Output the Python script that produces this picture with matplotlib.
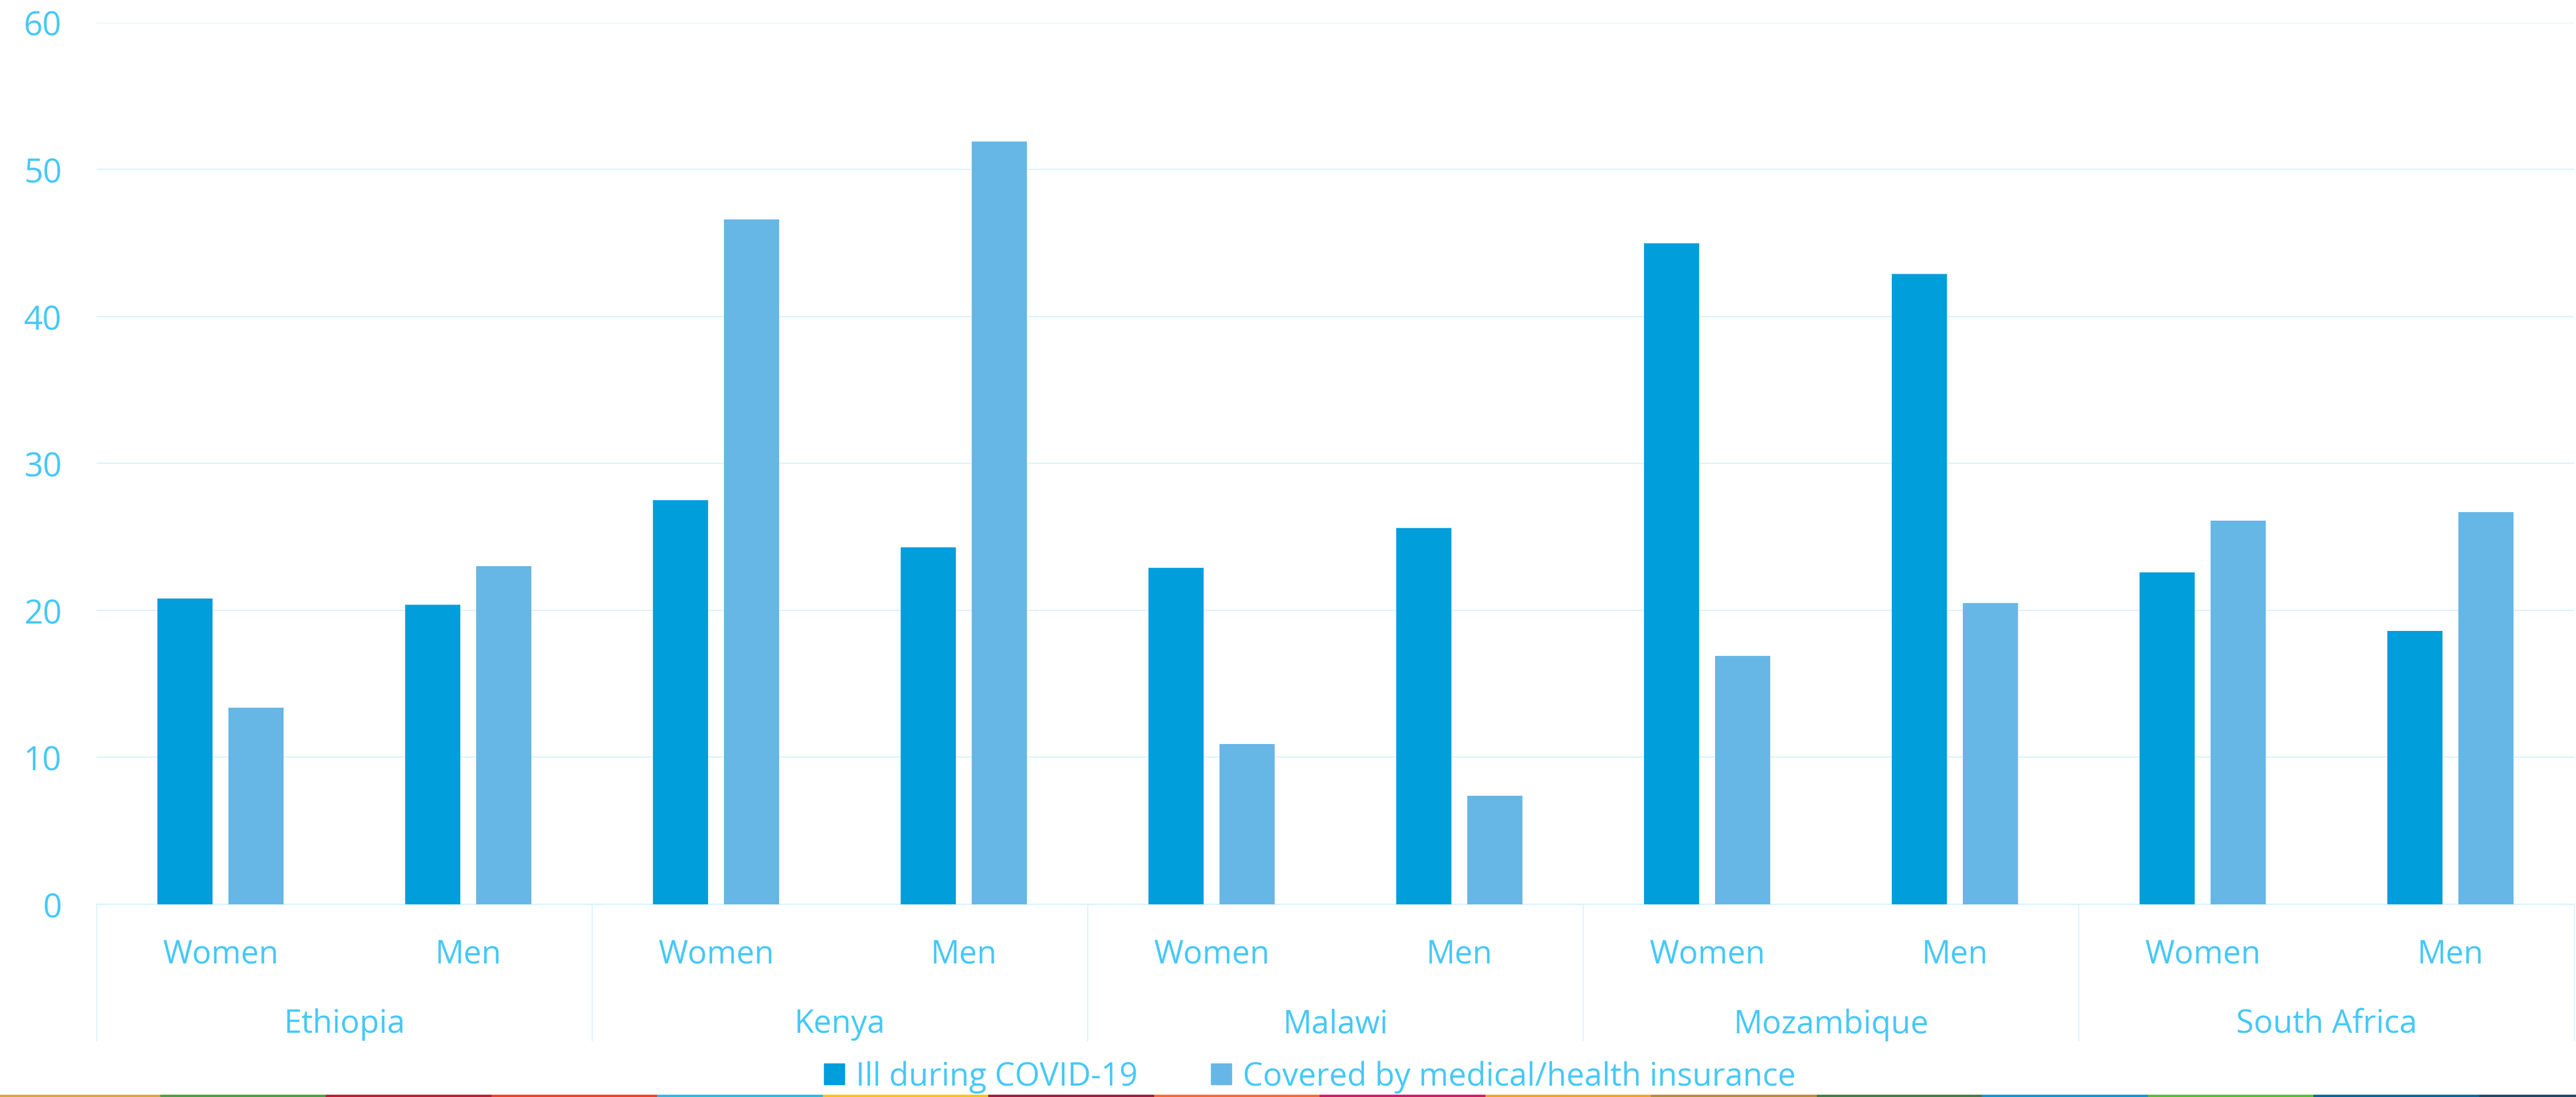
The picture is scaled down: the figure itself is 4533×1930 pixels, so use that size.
import numpy as np
import matplotlib.pyplot as plt
from matplotlib.patches import Patch

plt.rcParams['font.family'] = ['Open Sans', 'DejaVu Sans']

countries = ["Ethiopia", "Kenya", "Malawi", "Mozambique", "South Africa"]
sexes = ["Women", "Men"]

ill_covid = [20.8, 20.4, 27.5, 24.3, 22.9, 25.6, 45.0, 42.9, 22.6, 18.6]
insured = [13.4, 23.0, 46.6, 51.9, 10.9, 7.4, 16.9, 20.5, 26.1, 26.7]

series_names = ["Ill during COVID-19", "Covered by medical/health insurance"]

# SDG colour strip along the bottom edge
strip_colors = ["#DDA63A", "#4C9F38", "#C5192D", "#FF3A21", "#26BDE2", "#FCC30B",
                "#A21942", "#FD6925", "#DD1367", "#FD9D24", "#BF8B2E", "#3F7E44",
                "#0A97D9", "#56C02B", "#00689D", "#19486A"]

text_color = "#45C8F8"
grid_color = "#D6F2FD"
dark_blue = "#009EDB"
light_blue = "#66B7E6"
fs = 40.5

fig = plt.figure(figsize=(45.33, 19.31), dpi=100)
ax = fig.add_axes([170 / 4533, 1 - 1592 / 1931, 4360 / 4533, (1592 - 40.7) / 1931])

x = np.arange(len(ill_covid))
w = 0.223
off = w / 2 + 0.031
ax.bar(x - off, ill_covid, w, color=dark_blue, zorder=3)
ax.bar(x + off, insured, w, color=light_blue, zorder=3)

ax.set_xlim(-0.5, len(x) - 0.5)
ax.set_ylim(0, 60)
ax.set_yticks(range(0, 61, 10))
ax.yaxis.grid(True, color=grid_color, linewidth=1.5, zorder=0)
ax.tick_params(axis='y', length=0, pad=44, labelsize=42, labelcolor=text_color)
ax.set_xticks([])
for s in ["top", "right", "left"]:
    ax.spines[s].set_visible(False)
ax.spines["bottom"].set_color(grid_color)
ax.spines["bottom"].set_linewidth(1.5)

# two-level category axis
tr = ax.get_xaxis_transform()
for i in x:
    ax.text(i, -0.057, sexes[i % 2], transform=tr, ha='center', va='center',
            fontsize=fs, color=text_color)
for j, c in enumerate(countries):
    ax.text(2 * j + 0.5, -0.136, c, transform=tr, ha='center', va='center',
            fontsize=fs, color=text_color)
for b in np.arange(-0.5, len(x), 2):
    ax.plot([b, b], [0, -0.155], transform=tr, color=grid_color, lw=1.2,
            clip_on=False)

handles = [Patch(color=dark_blue), Patch(color=light_blue)]
fig.legend(handles, series_names, loc='center', bbox_to_anchor=(0.5085, 0.0185),
           ncol=2, frameon=False, fontsize=fs, labelcolor=text_color,
           handlelength=0.64, handleheight=0.64, handletextpad=0.35,
           columnspacing=2.3, borderpad=0.2)

sax = fig.add_axes([0, 0, 1, 4 / 1931])
seg = 291.5
starts = -10 + seg * np.arange(len(strip_colors))
sax.bar(starts, 1, seg, align='edge', color=strip_colors)
sax.set_xlim(0, 4533)
sax.set_ylim(0, 1)
sax.axis('off')

fig.savefig("out.png", dpi=100)
